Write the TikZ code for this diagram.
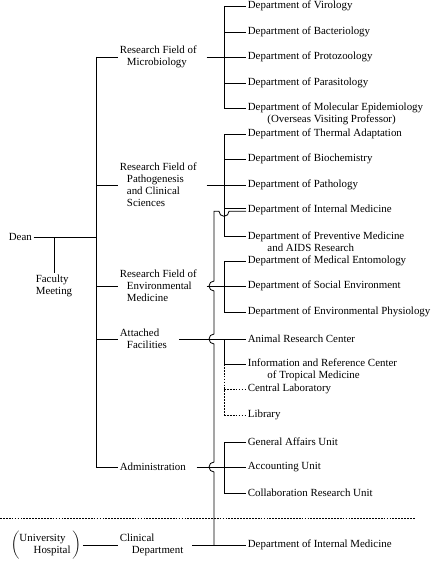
\documentclass[tikz,border=0pt]{standalone}
\usepackage{fontspec}
\setmainfont{Liberation Serif}
\usetikzlibrary{calc}
\newcommand{\ind}{\hspace*{0.65em}}
\newcommand{\indd}{\hspace*{1.8em}}
\tikzset{
  lbl/.style  ={inner sep=0pt,outer sep=1.6pt,font=\fontsize{9.3}{10.3}\selectfont,align=left},
  fld/.style  ={lbl,anchor=west},
  dept/.style ={lbl,anchor=west},
  wire/.style ={line width=0.7pt},
  weak/.style ={line width=0.7pt,dash pattern=on 1.5pt off 1pt},
}

\begin{document}
\begin{tikzpicture}[x=0.03cm,y=-0.03cm]
  \useasboundingbox (0,0) rectangle (434,562);
  \coordinate (tr) at (96,0); \coordinate (bx) at (224,0); \coordinate (cx) at (214,0);
  % left: dean and research fields
  \node[lbl,anchor=west](dean) at (7,237){Dean};
  \node[lbl](fac) at (54,285.5){Faculty\\Meeting};
  \node[fld](mic) at (118,57){Research Field of\\\ind Microbiology};
  \node[fld](pat) at (118,185){Research Field of\\\ind Pathogenesis\\\ind and Clinical\\\ind Sciences};
  \node[fld](env) at (118,286){Research Field of\\\ind Environmental\\\ind Medicine};
  \node[fld](att) at (118,339){Attached\\\ind Facilities};
  \node[fld](adm) at (118,467){Administration};
  \node[fld](uh) at (9,545){$\left(\begin{tabular}{@{}l@{}}University\\\hspace*{1.3em}Hospital\end{tabular}\,\right)$};
  \node[fld](cli) at (118,545){Clinical\\\hspace*{1.1em}Department};
  % right: departments
  \node[dept](vir) at (246,6){Department of Virology};
  \node[dept](bac) at (246,32){Department of Bacteriology};
  \node[dept](pro) at (246,57){Department of Protozoology};
  \node[dept](par) at (246,83){Department of Parasitology};
  \node[dept](mol) at (246,114){Department of Molecular Epidemiology\\\indd(Overseas Visiting Professor)};
  \node[dept](the) at (246,134){Department of Thermal Adaptation};
  \node[dept](bio) at (246,159){Department of Biochemistry};
  \node[dept](pth) at (246,185){Department of Pathology};
  \node[dept](im)  at (246,210){Department of Internal Medicine};
  \node[dept](prv) at (246,242){Department of Preventive Medicine\\\indd and AIDS Research};
  \node[dept](ent) at (246,261){Department of Medical Entomology};
  \node[dept](soc) at (246,286){Department of Social Environment};
  \node[dept](enp) at (246,312){Department of Environmental Physiology};
  \node[dept](ani) at (246,339){Animal Research Center};
  \node[dept](inf) at (246,370){Information and Reference Center\\\indd of Tropical Medicine};
  \node[dept](clb) at (246,389){Central Laboratory};
  \node[dept](lib) at (246,415){Library};
  \node[dept](gen) at (246,442){General Affairs Unit};
  \node[dept](acc) at (246,467){Accounting Unit};
  \node[dept](col) at (246,493){Collaboration Research Unit};
  \node[dept](imb) at (246,545){Department of Internal Medicine};
  \coordinate (mol1) at ([yshift=0.18cm]mol.west);
  \coordinate (prv1) at ([yshift=0.18cm]prv.west);
  \coordinate (inf1) at ([yshift=0.18cm]inf.west);

  % trunk
  \draw[wire] (dean.east) -- (dean.east -| tr);
  \draw[wire] (fac.north |- dean.east) -- (fac.north);
  \draw[wire] (mic.west -| tr) -- (adm.west -| tr);
  \foreach \n in {mic,pat,env,att,adm}{\draw[wire] (\n.west -| tr) -- (\n.west);}
  \draw[wire] (uh.east) -- (cli.west);

  % brackets
  \draw[wire] (vir.west -| bx) -- (mol1 -| bx);
  \draw[wire] (the.west -| bx) -- (prv1 -| bx);
  \draw[wire] (ent.west -| bx) -- (enp.west -| bx);
  \draw[wire] (ani.west -| bx) -- (inf1 -| bx);
  \draw[weak] (inf1 -| bx) -- (lib.west -| bx);
  \draw[wire] (gen.west -| bx) -- (col.west -| bx);
  \foreach \n in {vir.west,bac.west,par.west,mol1,the.west,bio.west,prv1,ent.west,enp.west,inf1,gen.west,col.west}
    {\draw[wire] (\n -| bx) -- (\n);}
  \foreach \n in {clb,lib}{\draw[weak] (\n.west -| bx) -- (\n.west);}
  \draw[wire] ($(im.west -| bx)+(0,-1.3)$) -- ($(im.west)+(0,-1.3)$);

  % field to bracket
  \draw[wire] ([xshift=0.24cm]mic.east) -- (pro.west);
  \draw[wire] ([xshift=0.24cm]pat.east) -- (pth.west);
  \draw[wire] ([xshift=0.24cm]env.east) -- (soc.west);
  \draw[wire] ([xshift=0.3cm]att.east) -- (ani.west);
  \draw[wire] ([xshift=0.27cm]adm.east) -- (acc.west);

  % clinical department
  \draw[wire] ([xshift=0.21cm]cli.east) -- (imb.west);
  \draw[wire] (imb.west -| cx) -- ($(acc.west -| cx)+(0,5)$) arc[start angle=90,end angle=270,radius=5]
    -- ($(ani.west -| cx)+(0,5)$) arc[start angle=90,end angle=270,radius=5]
    -- ($(soc.west -| cx)+(0,5)$) arc[start angle=90,end angle=270,radius=5]
    -- ($(im.west -| cx)+(0,1.3)$) -- ++(5,0) arc[start angle=180,end angle=0,radius=5]
    -- ($(im.west)+(0,1.3)$);

  \draw[weak] (0,518) -- (415,518);
\end{tikzpicture}
\end{document}
